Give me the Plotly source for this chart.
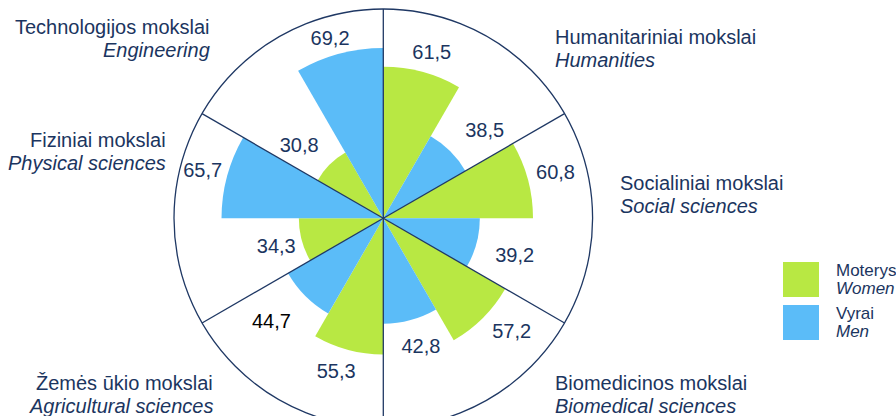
import plotly.graph_objects as go

# Mokslo sritys (pagal laikrodžio rodyklę nuo viršaus)
fields_lt = ["Humanitariniai mokslai", "Socialiniai mokslai", "Biomedicinos mokslai",
             "Žemės ūkio mokslai", "Fiziniai mokslai", "Technologijos mokslai"]
fields_en = ["Humanities", "Social sciences", "Biomedical sciences",
             "Agricultural sciences", "Physical sciences", "Engineering"]
women = [61.5, 60.8, 57.2, 55.3, 34.3, 30.8]
men = [38.5, 39.2, 42.8, 44.7, 65.7, 69.2]

W, H = 896, 432
NAVY = "#1B3560"
LINE = "#1F3864"
GREEN = "#B8E843"
BLUE = "#5BBCF8"
FONT = "Liberation Sans, Arial, sans-serif"
R_MAX = 85

# centras ir spindulys pikseliais (lango koordinatės)
cx, cy, rad = 383.3, 218.3, 209.3

def px(x):
    return x / W

def py(y):
    return (H - y) / H

sector = 360 / len(fields_lt)
theta_w = [i * sector + sector / 4 for i in range(len(fields_lt))]
theta_m = [i * sector + 3 * sector / 4 for i in range(len(fields_lt))]

fmt = lambda v: f"{v:.1f}".replace(".", ",")

# etikečių padėtys (theta, r)
lab_w_theta = [16.4, 75.6, 131.7, 197.0, 254.5, 310.2]
lab_w_r = [69.7, 72.2, 69.8, 65.5, 45.1, 44.7]
lab_m_theta = [49.7, 106.4, 163.8, 227.0, 284.3, 343.4]
lab_m_r = [54.0, 55.6, 54.7, 62.1, 75.7, 75.7]

fig = go.Figure()
fig.add_trace(go.Barpolar(r=women, theta=theta_w, width=sector / 2,
                          marker=dict(color=GREEN, line=dict(width=0)), name="Moterys"))
fig.add_trace(go.Barpolar(r=men, theta=theta_m, width=sector / 2,
                          marker=dict(color=BLUE, line=dict(width=0)), name="Vyrai"))

# skiriamosios linijos tarp sričių
for i in range(len(fields_lt)):
    fig.add_trace(go.Scatterpolar(r=[0, R_MAX], theta=[i * sector, i * sector], mode="lines",
                                  line=dict(color=LINE, width=1.3), hoverinfo="skip"))

fig.add_trace(go.Scatterpolar(r=lab_w_r, theta=lab_w_theta, mode="text",
                              text=[fmt(v) for v in women],
                              textfont=dict(size=20, color=NAVY, family=FONT)))
fig.add_trace(go.Scatterpolar(r=lab_m_r, theta=lab_m_theta, mode="text",
                              text=[fmt(v) for v in men],
                              textfont=dict(size=20, family=FONT,
                                            color=["black" if v == 44.7 else NAVY for v in men])))

fig.update_layout(
    width=W, height=H,
    margin=dict(l=0, r=0, t=0, b=0),
    paper_bgcolor="white",
    showlegend=False,
    font=dict(family=FONT, color=NAVY),
    polar=dict(
        domain=dict(x=[px(cx - rad), px(cx + rad)], y=[py(cy + rad), py(cy - rad)]),
        bgcolor="white",
        radialaxis=dict(visible=False, range=[0, R_MAX], showgrid=False),
        angularaxis=dict(direction="clockwise", rotation=90, showgrid=False,
                         showticklabels=False, ticks="", showline=True,
                         linecolor=LINE, linewidth=1.3),
    ),
)

# sričių pavadinimai
lab_pos = [(553, 37, "left"), (618, 183, "left"), (553, 383, "left"),
           (215, 383, "right"), (168, 140, "right"), (212, 27, "right")]
for (x, y, al), lt, en in zip(lab_pos, fields_lt, fields_en):
    fig.add_annotation(x=px(x), y=py(y), xref="paper", yref="paper", text=lt,
                       showarrow=False, xanchor=al, yanchor="middle",
                       font=dict(size=20, color=NAVY, family=FONT))
    fig.add_annotation(x=px(x), y=py(y + 23), xref="paper", yref="paper", text=f"<i>{en}</i>",
                       showarrow=False, xanchor=al, yanchor="middle",
                       font=dict(size=20, color=NAVY, family=FONT))

# legenda
leg = [(GREEN, 262, "Moterys", "Women"), (BLUE, 305, "Vyrai", "Men")]
for col, y0, lt, en in leg:
    fig.add_shape(type="rect", xref="paper", yref="paper", x0=px(783), x1=px(819),
                  y0=py(y0 + 35), y1=py(y0), fillcolor=col, line=dict(width=0))
    fig.add_annotation(x=px(834), y=py(y0 + 8), xref="paper", yref="paper", text=lt,
                       showarrow=False, xanchor="left", yanchor="middle",
                       font=dict(size=17, color=NAVY, family=FONT))
    fig.add_annotation(x=px(834), y=py(y0 + 26), xref="paper", yref="paper", text=f"<i>{en}</i>",
                       showarrow=False, xanchor="left", yanchor="middle",
                       font=dict(size=17, color=NAVY, family=FONT))

# nuimame puslapio paraštę, kad paveikslas prasidėtų nuo kampo
fig.write_html("out.html", config={"displayModeBar": False},
               post_script="document.body.style.margin='0';document.body.style.overflow='hidden';")
